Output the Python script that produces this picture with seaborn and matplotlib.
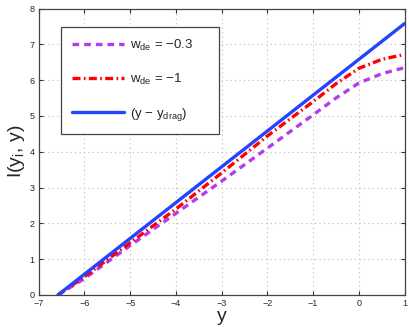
import matplotlib
matplotlib.use("Agg")
import matplotlib.pyplot as plt
import seaborn as sns
import pandas as pd

# values
y_drag = -6.58
y_grid = [-6.58, -6, -5, -4, -3, -2, -1, -0.5, 0, 0.5, 1]
i_wde_03 = [0, 0.46, 1.38, 2.28, 3.18, 4.10, 5.03, 5.50, 5.92, 6.18, 6.35]
i_wde_1 = [0, 0.51, 1.46, 2.40, 3.41, 4.44, 5.40, 5.90, 6.33, 6.58, 6.72]
y_lin = [y_drag, 1]
i_lin = [y - y_drag for y in y_lin]

sns.set_style("whitegrid")
plt.rcParams['font.family'] = ['Liberation Sans', 'DejaVu Sans']
plt.rcParams['mathtext.fontset'] = 'custom'
plt.rcParams['mathtext.rm'] = 'Liberation Sans'

fig = plt.figure(figsize=(4.1, 3.27), dpi=100)
ax = fig.add_axes([0.0944, 0.0979, 0.8922, 0.8758])

df_a = pd.DataFrame({'y': y_grid, 'I': i_wde_03})
df_b = pd.DataFrame({'y': y_grid, 'I': i_wde_1})
df_c = pd.DataFrame({'y': y_lin, 'I': i_lin})

sns.lineplot(data=df_a, x='y', y='I', ax=ax, color='#b43cf0', lw=2.4,
             linestyle=(0, (2.0, 1.5)), label=r'w$_{\rm de}$ = $-$0.3')
sns.lineplot(data=df_b, x='y', y='I', ax=ax, color='#ff0000', lw=2.4,
             linestyle=(0, (2.4, 1.0, 0.5, 1.0)), label=r'w$_{\rm de}$ = $-$1')
sns.lineplot(data=df_c, x='y', y='I', ax=ax, color='#2244ff', lw=2.4,
             label=r'(y $-$ y$_{\rm drag}$)')

ax.set_xlim(-7, 1)
ax.set_ylim(0, 8)
ax.set_xticks(range(-7, 2))
ax.set_yticks(range(0, 9))
ax.set_xticklabels(['\u22127', '\u22126', '\u22125', '\u22124', '\u22123', '\u22122', '\u22121', '0', '1'])
ax.tick_params(labelsize=6.5, direction='in', length=3, color='#333333', pad=3,
               top=True, right=True, bottom=True, left=True)
ax.grid(True, color='#bbbbbb', linestyle=(0, (1, 3)), lw=0.8)
for s in ax.spines.values():
    s.set_color('#444444')
    s.set_linewidth(0.9)

ax.set_xlabel('y', fontsize=14, labelpad=0)
ax.set_ylabel(r'I(y$_{\rm i}$, y)', fontsize=14, labelpad=2)

leg = ax.legend(loc='upper left', bbox_to_anchor=(0.061, 0.57, 0.432, 0.366),
                mode='expand', fontsize=9.5, borderaxespad=0,
                handlelength=4.0, labelspacing=1.45, borderpad=0.8,
                handletextpad=0.4, fancybox=False, framealpha=1,
                edgecolor='#444444')
leg.get_frame().set_linewidth(0.9)

fig.savefig('out.png', dpi=100)
